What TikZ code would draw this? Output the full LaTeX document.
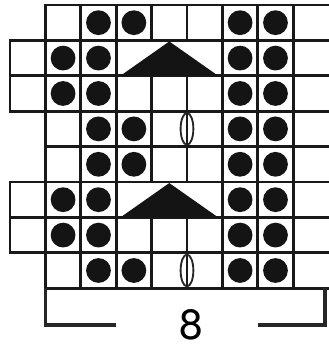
\documentclass[tikz,border=0pt]{standalone}
\usepackage{fontspec}
\setmainfont{TeX Gyre Heros}
\usepackage{tikz}

\tikzset{
  gridline/.style={line width=2.3pt, black!90, line cap=rect},
  purl/.style={fill=black!92},
  yarnover/.style={line width=1.5pt, black!85},
  bracket/.style={line width=3pt, black!85},
}

\begin{document}
\begin{tikzpicture}[x=1cm,y=1cm]
      \useasboundingbox (-0.282,-1.859) rectangle (9,8.141);
      % Horizontal rules (rows 2,3 and 6,7 stick out one cell to the left)
      \foreach \y in {7,6,5,3,2,1}
        \draw[gridline] (0,\y) -- (9,\y);
      \foreach \y in {8,4,0}
        \draw[gridline] (1,\y) -- (9,\y);
      % Vertical rules
      \draw[gridline] (0,5) -- (0,7) (0,1) -- (0,3);
      \foreach \x in {1,2,3,6,7,8}
        \draw[gridline] (\x,0) -- (\x,8);
      % cols 4,5 broken where the three-cell decrease sits
      \foreach \x in {4,5}
        \draw[gridline] (\x,0) -- (\x,2) (\x,3) -- (\x,6) (\x,7) -- (\x,8);
      % Decrease triangles
      \fill[black!92] (3.12,6) -- (4.5,6.97) -- (5.88,6) -- cycle;
      \fill[black!92] (3.12,2) -- (4.5,2.97) -- (5.88,2) -- cycle;
      % Yarn overs, sitting on the rule between cols 4 and 5
      \draw[yarnover] (5,4.5) ellipse (0.18 and 0.45);
      \draw[yarnover] (5,0.5) ellipse (0.18 and 0.45);
      % Purl dots: row from top / first two dot columns
      \foreach \r/\a/\b in {1/2/3, 2/1/2, 3/1/2, 4/2/3, 5/2/3, 6/1/2, 7/1/2, 8/2/3}
        \foreach \c in {\a,\b,6,7}
          \fill[purl] (\c+0.5,8.5-\r) circle (0.35);
      % Repeat bracket
      \draw[bracket] (1,0) -- (1,-1.03) -- (3,-1.03);
      \draw[bracket] (7,-1.03) -- (8.89,-1.03) -- (8.89,0);
      \node[font=\fontsize{34}{34}\selectfont, inner sep=0pt] (repeat) at (5.12,-1.04) {8};
\end{tikzpicture}
\end{document}
